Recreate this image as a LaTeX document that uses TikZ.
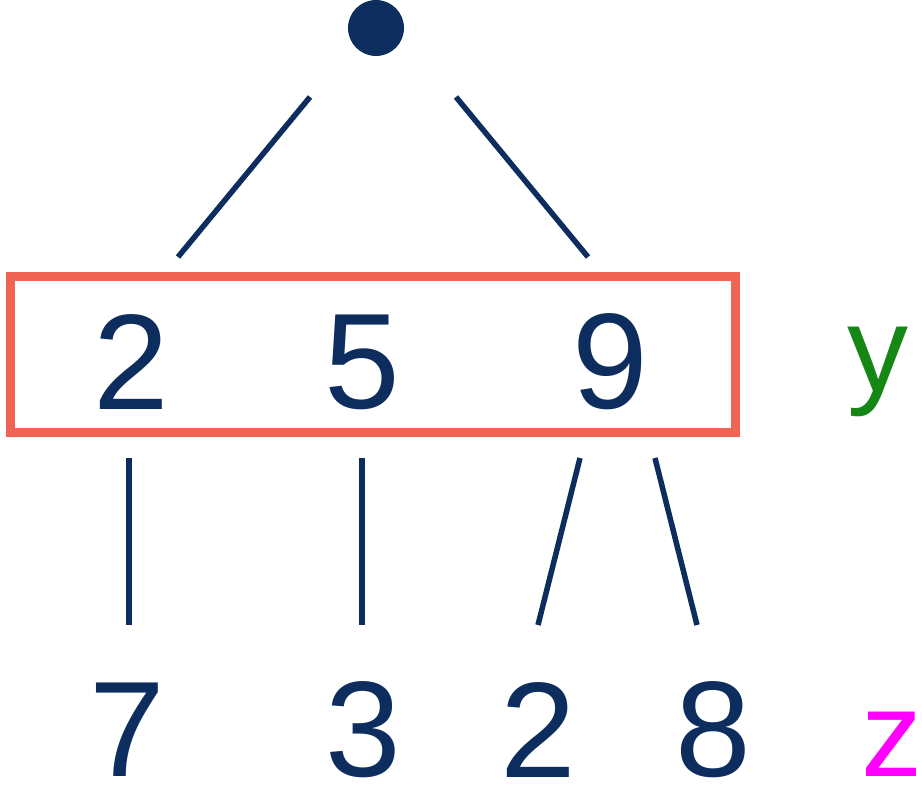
\documentclass[tikz,border=0pt]{standalone}
\usepackage{fontspec}
\setmainfont{Liberation Sans}
\definecolor{navy}{RGB}{12,45,94}
\definecolor{boxred}{RGB}{240,100,85}
\definecolor{ygreen}{RGB}{20,135,20}
\definecolor{zmag}{RGB}{255,0,255}
\begin{document}
\begin{tikzpicture}[x=1pt,y=-1pt,
  num/.style={inner sep=0pt,text=navy,font=\fontsize{136}{136}\selectfont},
  lbl/.style={inner sep=0pt,font=\fontsize{122}{122}\selectfont},
  edge/.style={draw=navy,line width=5.5pt}]
\useasboundingbox (0,0) rectangle (922,794);
% root
\fill[navy] (376,28) circle (28) coordinate (root);
\coordinate (r1) at (310,97); \coordinate (r2) at (178,257);
\coordinate (r3) at (456,97); \coordinate (r4) at (588,257);
\draw[edge] (r1) -- (r2);
\draw[edge] (r3) -- (r4);
% box
\draw[boxred,line width=9pt] (10,277) rectangle (735,433);
\node[num] (y1) at (131,362) {2};
\node[num] (y2) at (362,362) {5};
\node[num] (y3) at (610,362) {9};
\node[lbl,text=ygreen] (ly) at (878,372) {y};
% lower edges
\coordinate (a1) at (129,458); \coordinate (a2) at (129,625);
\coordinate (b1) at (362,458); \coordinate (b2) at (362,625);
\coordinate (c1) at (580,458); \coordinate (c2) at (538,625);
\coordinate (d1) at (655,458); \coordinate (d2) at (697,625);
\draw[edge] (a1) -- (a2);
\draw[edge] (b1) -- (b2);
\draw[edge] (c1) -- (c2);
\draw[edge] (d1) -- (d2);
% bottom row
\node[num] (z1) at (127,730) {7};
\node[num] (z2) at (363,730) {3};
\node[num] (z3) at (538,730) {2};
\node[num] (z4) at (713,730) {8};
\node[lbl,text=zmag] (lz) at (892,744) {z};
\end{tikzpicture}
\end{document}
